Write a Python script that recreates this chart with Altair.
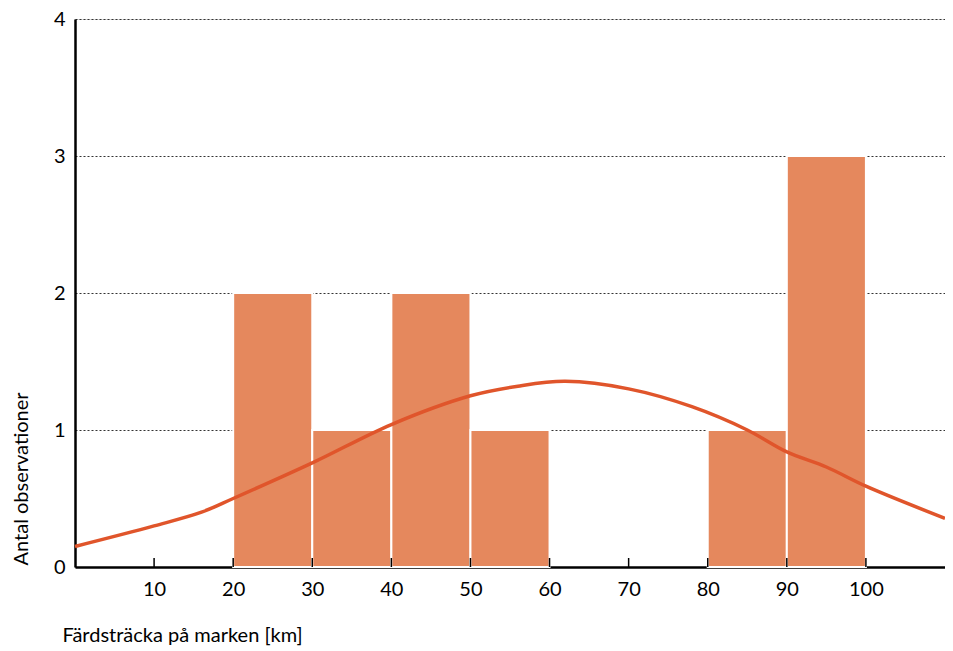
import altair as alt
import pandas as pd

bin_start = [20, 30, 40, 50, 80, 90]
bin_end = [30, 40, 50, 60, 90, 100]
counts = [2, 1, 2, 1, 1, 3]

curve_x = [0, 10, 16, 20, 30, 40, 50, 56, 62, 70, 78, 85, 90, 95, 100, 110]
curve_y = [0.15, 0.30, 0.40, 0.50, 0.76, 1.04, 1.25, 1.32, 1.355, 1.30, 1.17, 1.00, 0.84, 0.73, 0.59, 0.355]

x_ticks = [10, 20, 30, 40, 50, 60, 70, 80, 90, 100]
y_ticks = [0, 1, 2, 3, 4]

bars_df = pd.DataFrame({"start": bin_start, "end": bin_end, "count": counts})
curve_df = pd.DataFrame({"x": curve_x, "y": curve_y})
ticks_df = pd.DataFrame({"t": x_ticks})

FONT = "Lato"
xscale = alt.Scale(domain=[0, 110], nice=False, zero=False)
yscale = alt.Scale(domain=[0, 4], nice=False)

x_axis = alt.Axis(values=x_ticks, title="Färdsträcka på marken [km]",
                  format="d",
                  grid=False, ticks=False, domain=True,
                  domainColor="black", domainWidth=2.5,
                  labelFontSize=20, labelFont=FONT, labelColor="black",
                  labelPadding=12,
                  titleFont=FONT, titleFontSize=20, titleFontWeight="normal",
                  titleColor="black", titleAnchor="start", titleAlign="left",
                  titleX=-13, titleY=74, titleBaseline="alphabetic")
y_axis = alt.Axis(values=y_ticks, title="Antal observationer",
                  format="d",
                  grid=True, gridColor="#333333", gridDash=[2, 2], gridWidth=1,
                  ticks=False, domain=True, domainColor="black", domainWidth=2.5,
                  labelFontSize=20, labelFont=FONT, labelColor="black",
                  labelPadding=10,
                  titleFont=FONT, titleFontSize=20, titleFontWeight="normal",
                  titleColor="black", titleAngle=-90, titleAlign="left",
                  titleX=-48, titleY=546, titleBaseline="alphabetic")

bars = alt.Chart(bars_df).mark_rect(
    color="#E5885D", stroke="white", strokeWidth=2
).encode(
    x=alt.X("start:Q", scale=xscale, axis=x_axis),
    x2="end:Q",
    y=alt.Y("count:Q", scale=yscale, axis=y_axis),
    y2=alt.datum(0),
)

line = alt.Chart(curve_df).mark_line(
    color="#E0552B", strokeWidth=3.5, interpolate="catmull-rom"
).encode(
    x=alt.X("x:Q", scale=xscale, axis=x_axis),
    y=alt.Y("y:Q", scale=yscale, axis=y_axis),
)

tickmarks = alt.Chart(ticks_df).mark_rule(color="black", strokeWidth=1.5).encode(
    x=alt.X("t:Q", scale=xscale, axis=x_axis),
    y=alt.value(548),
    y2=alt.value(539),
)

chart = alt.layer(bars, line, tickmarks).properties(
    width=870, height=548,
    autosize=alt.AutoSizeParams(type="none"),
    padding={"left": 67, "top": 11, "right": 0, "bottom": 82},
).configure_view(strokeWidth=0).configure(background="white")

chart.save("out.html", embed_options={"renderer": "svg", "actions": False})
